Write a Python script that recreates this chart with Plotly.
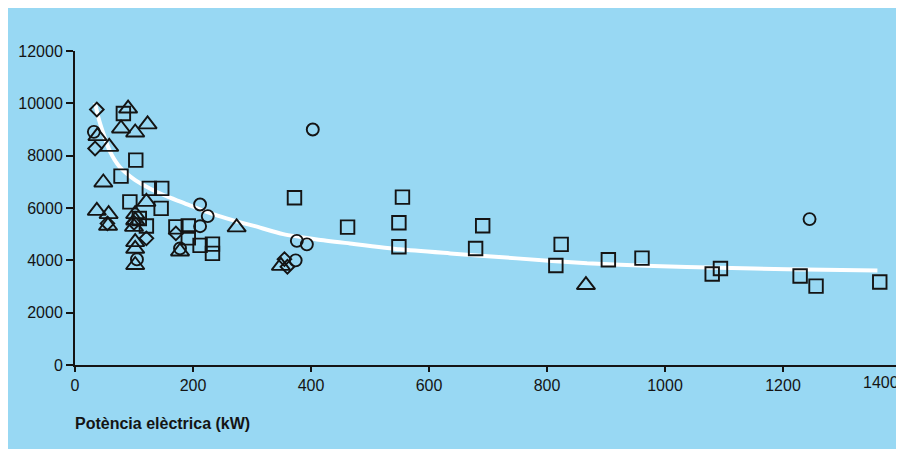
import plotly.graph_objects as go

# ---- data ----
sq_x = [82, 103, 78, 126, 147, 93, 146, 109, 121, 171, 192, 192, 212, 233, 233,
        372, 555, 462, 549, 691, 549, 679, 824, 815, 904, 961, 1094, 1080, 1229, 1256, 1364]
sq_y = [9610, 7830, 7220, 6750, 6750, 6235, 5985, 5600, 5310, 5280, 5310, 4860, 4570, 4620, 4265,
        6390, 6415, 5270, 5435, 5320, 4520, 4455, 4610, 3805, 4020, 4085, 3690, 3475, 3400, 3015, 3170]

tri_x = [90, 78, 102, 123, 38, 58, 48, 121, 37, 57, 56, 102, 102, 100, 102, 102, 102, 178, 274, 349, 866]
tri_y = [9800, 9040, 8885, 9195, 8745, 8335, 6975, 6235, 5890, 5765, 5320, 5765, 5525, 5280, 4695,
         4440, 3820, 4340, 5260, 3790, 3055]

cir_x = [32, 105, 178, 212, 225, 212, 403, 376, 393, 374, 1245]
cir_y = [8910, 4035, 4455, 6135, 5690, 5305, 9000, 4745, 4610, 4000, 5575]

dia_x = [37, 34, 55, 100, 121, 171, 355, 360]
dia_y = [9765, 8275, 5410, 5435, 4840, 5030, 4045, 3755]

curve_x = [34, 39.5, 48, 59, 76, 102, 130, 158, 186, 215, 243, 271, 305, 353, 410, 466,
           551, 636, 749, 868, 980, 1094, 1207, 1360]
curve_y = [10015, 9470, 8850, 8170, 7560, 7064, 6710, 6425, 6175, 5920, 5700, 5510, 5305, 5000,
           4800, 4645, 4420, 4265, 4075, 3885, 3780, 3715, 3655, 3615]

x_ticks = [0, 200, 400, 600, 800, 1000, 1200, 1400]
x_tick_text = ["0", "200", "400", "600", "800", "1000", "1200", ""]
y_ticks = [0, 2000, 4000, 6000, 8000, 10000, 12000]
y_tick_text = ["0", "2000", "4000", "6000", "8000", "10000", "12000"]
x_title = "Potència elèctrica (kW)"

BG = "#98d8f3"
INK = "#141414"
FONT = "Liberation Sans, Arial, sans-serif"

fig = go.Figure()
fig.add_trace(go.Scatter(x=curve_x, y=curve_y, mode="lines",
                         line=dict(color="white", width=4, shape="spline", smoothing=0.6),
                         hoverinfo="skip", showlegend=False))

def add_markers(xs, ys, symbol, size):
    fig.add_trace(go.Scatter(x=xs, y=ys, mode="markers", showlegend=False,
                             marker=dict(symbol=symbol, size=size, color=INK,
                                         line=dict(color=INK, width=1.9))))

add_markers(sq_x, sq_y, "square-open", 13.5)
add_markers(tri_x, tri_y, "triangle-up-open", 16)
add_markers(cir_x, cir_y, "circle-open", 12)
add_markers(dia_x, dia_y, "diamond-open", 10.5)

PW = 825.7
PH = 314.3
fig.update_layout(
    width=896, height=441,
    margin=dict(l=67, r=3.3, t=43, b=84),
    paper_bgcolor=BG, plot_bgcolor=BG,
    font=dict(family=FONT, size=16, color=INK),
    showlegend=False,
    xaxis=dict(range=[0, 1400], tickvals=x_ticks, ticktext=x_tick_text,
               showline=True, linecolor=INK, linewidth=2, showgrid=False, zeroline=False,
               ticks="outside", ticklen=5, tickwidth=1.5, tickcolor=INK, fixedrange=True),
    yaxis=dict(range=[0, 12000], tickvals=y_ticks, ticktext=y_tick_text,
               showline=True, linecolor=INK, linewidth=2, showgrid=False, zeroline=False,
               ticks="outside", ticklen=7, tickwidth=1.5, tickcolor=INK, fixedrange=True),
    annotations=[
        dict(text="1400", xref="x", yref="paper", x=1400, y=0, xanchor="right",
             yanchor="top", yshift=-7, xshift=0, showarrow=False, font=dict(size=16, color=INK)),
        dict(text="<b>" + x_title + "</b>", xref="paper", yref="paper", x=-2 / PW,
             y=-59 / PH, xanchor="left", yanchor="middle", showarrow=False,
             font=dict(size=16, color=INK)),
    ],
)

fig.write_html("out.html")
